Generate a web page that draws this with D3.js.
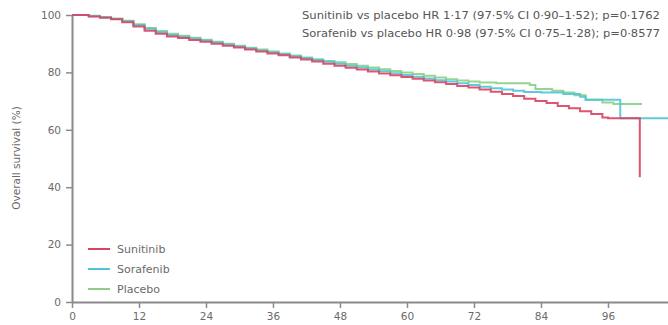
<!DOCTYPE html>
<html><head><meta charset="utf-8">
<script src="https://cdn.jsdelivr.net/npm/d3@7"></script>
<style>body{margin:0;background:#fff}svg{display:block}text{font-family:"DejaVu Sans",Arial,sans-serif}</style>
</head><body><svg id="c" width="668" height="325"></svg>
<script>
const xTicks = [0,12,24,36,48,60,72,84,96];
const yTicks = [0,20,40,60,80,100];
const seriesNames = ["Sunitinib","Sorafenib","Placebo"];
const seriesColors = ["#d9435f","#4fc4d8","#8ccf86"];
const annotations = [
  "Sunitinib vs placebo HR 1·17 (97·5% CI 0·90–1·52); p=0·1762",
  "Sorafenib vs placebo HR 0·98 (97·5% CI 0·75–1·28); p=0·8577"
];
const sunitinib = [[0,100],[2,100],[3,99.5],[5,99],[7,98.5],[9,97.5],[11,96],[13,94.5],[15,93.5],[17,92.5],[19,92],[21,91.3],[23,90.7],[25,90],[27,89.3],[29,88.7],[31,88],[33,87.3],[35,86.6],[37,86],[39,85.2],[41,84.5],[43,83.8],[45,83],[47,82.3],[49,81.6],[51,81],[53,80.3],[55,79.6],[57,79],[59,78.4],[61,77.8],[63,77.2],[65,76.6],[67,76],[69,75.3],[71,74.7],[73,74],[75,73.3],[77,72.5],[79,71.8],[81,70.8],[83,70],[85,69.3],[87,68.3],[89,67.5],[91,66.5],[93,65.5],[95,64.3],[96,64],[101.7,43.5]];
const sorafenib = [[0,100],[2,100],[3,99.6],[5,99.2],[7,98.6],[9,97.8],[11,96.5],[13,95.2],[15,94],[17,93],[19,92.4],[21,91.8],[23,91.1],[25,90.4],[27,89.7],[29,89],[31,88.3],[33,87.6],[35,87],[37,86.3],[39,85.6],[41,85],[43,84.3],[45,83.7],[47,83],[49,82.3],[51,81.7],[53,81],[55,80.4],[57,79.7],[59,79.1],[61,78.5],[63,77.9],[65,77.3],[67,76.8],[69,76.2],[71,75.6],[73,75],[75,74.5],[77,74],[79,73.6],[81,73.2],[84,73],[88,72.5],[91,71.5],[92,70.5],[98.2,64],[106.8,64]];
const placebo = [[0,100],[2,100],[3,99.7],[5,99.3],[7,98.8],[9,98],[11,96.8],[13,95.5],[15,94.4],[17,93.5],[19,92.8],[21,92.1],[23,91.4],[25,90.7],[27,90],[29,89.3],[31,88.6],[33,88],[35,87.3],[37,86.6],[39,85.9],[41,85.2],[43,84.6],[45,84],[47,83.5],[49,82.9],[51,82.3],[53,81.7],[55,81.1],[57,80.5],[59,80],[61,79.4],[63,78.8],[65,78.2],[67,77.6],[69,77.2],[71,76.8],[73,76.5],[76,76.2],[82,75.6],[83,74.2],[86,73.6],[88,73],[90,72],[92,70.5],[95,69.5],[97,69],[102.1,69]];
const seriesData = [sunitinib, sorafenib, placebo];

const svg = d3.select("#c");
const x = d3.scaleLinear().domain([0,106.75]).range([72,668]);
const y = d3.scaleLinear().domain([0,100]).range([302,15]);
const axisColor = "#8a8a8a", textColor = "#6a6a6a";
const font = "DejaVu Sans, Arial, sans-serif";

const gx = svg.append("g").attr("transform","translate(0,302)")
  .call(d3.axisBottom(x).tickValues(xTicks).tickSize(6).tickPadding(5).tickSizeOuter(0));
const gy = svg.append("g").attr("transform","translate(72,0)")
  .call(d3.axisLeft(y).tickValues(yTicks).tickSize(6).tickPadding(5).tickSizeOuter(0));
[gx,gy].forEach(g=>{
  g.select(".domain").attr("stroke",axisColor).attr("stroke-width",2);
  g.selectAll(".tick line").attr("stroke",axisColor).attr("stroke-width",1.5);
  g.selectAll(".tick text").attr("fill",textColor).attr("font-size",10.5).attr("font-family",font);
});
svg.append("text").attr("transform","translate(20,158) rotate(-90)").attr("text-anchor","middle")
  .attr("fill",textColor).attr("font-size",10.5).text("Overall survival (%)");

const line = d3.line().x(d=>x(d[0])).y(d=>y(d[1])).curve(d3.curveStepAfter);
[2,1,0].forEach(i=>{
  svg.append("path").datum(seriesData[i]).attr("d",line).attr("fill","none")
    .attr("stroke",seriesColors[i]).attr("stroke-width",2).attr("opacity",0.9);
});

annotations.forEach((t,i)=>{
  svg.append("text").attr("x",302).attr("y",19+i*18)
    .attr("textLength",358).attr("lengthAdjust","spacingAndGlyphs")
    .attr("fill","#555").attr("font-size",11).text(t);
});

seriesNames.forEach((n,i)=>{
  const yy = 249 + i*20;
  svg.append("line").attr("x1",88).attr("x2",110).attr("y1",yy).attr("y2",yy)
    .attr("stroke",seriesColors[i]).attr("stroke-width",2);
  svg.append("text").attr("x",117).attr("y",yy+4).attr("fill",textColor).attr("font-size",11).text(n);
});
</script></body></html>
